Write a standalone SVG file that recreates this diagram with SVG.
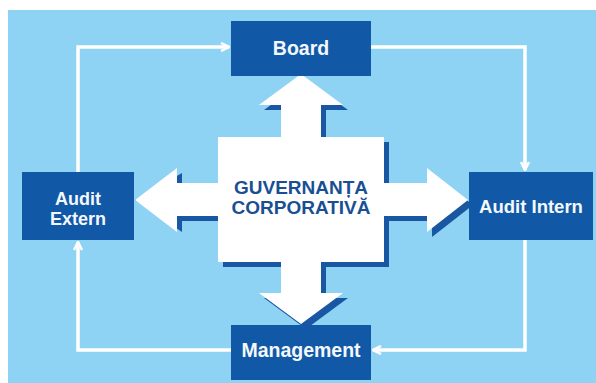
<svg xmlns="http://www.w3.org/2000/svg" width="596" height="383" viewBox="0 0 596 383">
<style>
.box{fill:#1159a6}
.lbl{font-family:"Liberation Sans",Arial,sans-serif;font-weight:bold;fill:#f4f8fc;text-anchor:middle}
.ctr{font-family:"Liberation Sans",Arial,sans-serif;font-weight:bold;fill:#1b4f93;text-anchor:middle;font-size:19px}
.con{fill:none;stroke:#ffffff;stroke-width:3.5}
</style>
<defs>
<marker id="ah" viewBox="0 0 10 10" refX="9" refY="5" markerWidth="10" markerHeight="10" markerUnits="userSpaceOnUse" orient="auto">
<path d="M1,1 L9,5 L1,9" fill="none" stroke="#ffffff" stroke-width="2.5"/>
</marker>
</defs>
<rect x="0" y="0" width="596" height="383" fill="#ffffff"/>
<rect x="8" y="10" width="588" height="373" fill="#8fd3f4"/>
<g id="connectors">
<path class="con" d="M78,172 V47 H229" marker-end="url(#ah)"/>
<path class="con" d="M371,47 H525 V170" marker-end="url(#ah)"/>
<path class="con" d="M525,240 V350 H373" marker-end="url(#ah)"/>
<path class="con" d="M231,350 H78 V242" marker-end="url(#ah)"/>
</g>
<g id="guvernanta">
<polygon fill="#1a57a3" points="306,79 348,110 326,110 326,142 389,142 389,188 432,188 432,173 473,205 432,237 432,221 389,221 389,267 326,267 326,298 348,298 306,329 264,298 286,298 286,267 223,267 223,221 182,221 182,232 135,200 182,173 182,188 223,188 223,142 286,142 286,110 264,110"/>
<polygon fill="#ffffff" points="301,74 343,105 321,105 321,137 384,137 384,183 427,183 427,168 468,200 427,232 427,216 384,216 384,262 321,262 321,293 343,293 301,324 259,293 281,293 281,262 218,262 218,216 177,216 177,232 135,200 177,168 177,183 218,183 218,137 281,137 281,105 259,105"/>
<text class="ctr" x="301" y="193.5">GUVERNANȚA</text>
<text class="ctr" x="301" y="213.5">CORPORATIVĂ</text>
</g>
<g id="board">
<rect class="box" x="231" y="21" width="140" height="55"/>
<text class="lbl" x="301" y="55" font-size="19.5">Board</text>
</g>
<g id="audit-extern">
<rect class="box" x="22" y="172" width="112" height="68"/>
<text class="lbl" x="78" y="205" font-size="18">Audit</text>
<text class="lbl" x="78" y="225" font-size="18">Extern</text>
</g>
<g id="audit-intern">
<rect class="box" x="469" y="172" width="124" height="68"/>
<text class="lbl" x="531" y="213" font-size="18.5">Audit Intern</text>
</g>
<g id="management">
<rect class="box" x="231" y="325" width="140" height="55"/>
<text class="lbl" x="301" y="357" font-size="19.5">Management</text>
</g>
</svg>
